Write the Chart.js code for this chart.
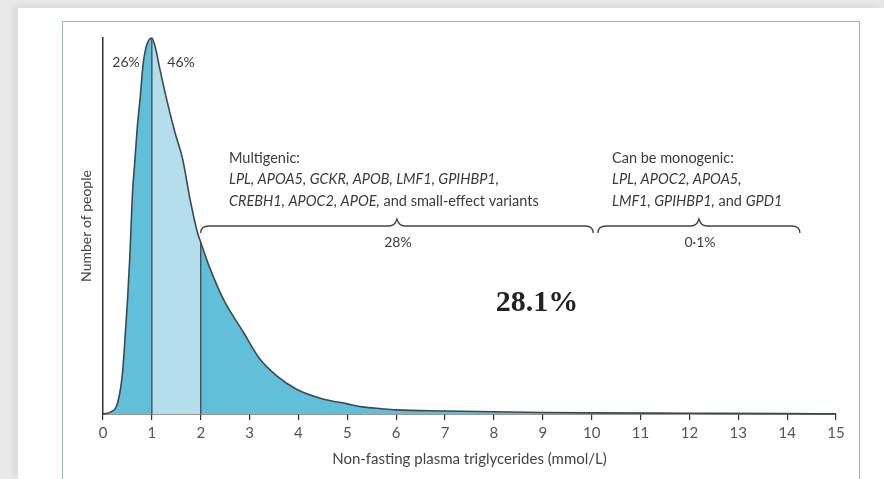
<!DOCTYPE html>
<html>
<head>
<meta charset="utf-8">
<script src="https://cdn.jsdelivr.net/npm/chart.js@4.4.1/dist/chart.umd.min.js"></script>
<style>
  html, body { margin: 0; padding: 0; }
  body { width: 884px; height: 479px; background: #e9e9e9; position: relative; overflow: hidden; }
  .sheet { position: absolute; left: 18px; top: 8px; right: 0; bottom: 0; background: #fff; box-shadow: -4px -2px 8px rgba(0,0,0,0.08); }
  .frame { position: absolute; left: 62px; top: 21px; width: 796px; height: 470px; border: 1.5px solid #93b7b1; }
  #chart { position: absolute; left: 0; top: 0; }
</style>
</head>
<body>
<div class="sheet"></div>
<div class="frame"></div>
<canvas id="chart" width="884" height="479"></canvas>
<script>
// triglycerides (mmol/L) and relative number of people
const tgValues = [0, 0.15, 0.3, 0.4, 0.46, 0.5, 0.55, 0.6, 0.65, 0.7, 0.76, 0.82, 0.88, 0.94, 1.0,
  1.08, 1.15, 1.3, 1.47, 1.63, 1.78, 1.93, 2.0, 2.17, 2.46, 2.87, 3.21, 3.55, 3.96, 4.5, 5.0,
  5.3, 5.7, 6.0, 7.0, 8.0, 9.0, 10.0, 12.0, 14.0, 15.0];
const peopleShare = [0, 0.005, 0.03, 0.11, 0.22, 0.30, 0.42, 0.58, 0.67, 0.76, 0.84, 0.93, 0.975, 0.995, 1.0,
  0.97, 0.926, 0.838, 0.75, 0.678, 0.572, 0.484, 0.457, 0.394, 0.306, 0.218, 0.146, 0.102, 0.066, 0.04, 0.027,
  0.019, 0.014, 0.011, 0.008, 0.006, 0.004, 0.003, 0.002, 0.001, 0];
const cutoffs = [1, 2];
const peakLabels = ['26%', '46%'];
const braceLabels = ['28%', '0·1%'];
const overallLabel = '28.1%';
const multigenicLines = [
  [['Multigenic:', false]],
  [['LPL, APOA5, GCKR, APOB, LMF1, GPIHBP1,', true]],
  [['CREBH1, APOC2, APOE,', true], [' and small-effect variants', false]],
];
const monogenicLines = [
  [['Can be monogenic:', false]],
  [['LPL, APOC2, APOA5,', true]],
  [['LMF1, GPIHBP1,', true], [' and ', false], ['GPD1', true]],
];

const FONT = 'Lato, "Open Sans", sans-serif';
const INK = '#3b3b3b';
const DARK = '#62bfd9';
const LIGHT = '#b4deeb';
const OUTLINE = '#3c4a4f';

const curve = tgValues.map((x, i) => ({ x, y: peopleShare[i] }));
const middle = curve.filter(p => p.x >= cutoffs[0] && p.x <= cutoffs[1]);
const valueAt = (x) => curve.find(p => p.x === x).y;
const cutLines = cutoffs.map(c => ({
  type: 'line',
  data: [{ x: c, y: 0 }, { x: c, y: valueAt(c) }],
  borderColor: OUTLINE,
  borderWidth: 1.3,
  pointRadius: 0,
  fill: false,
}));

function drawRuns(ctx, runs, x, y, size) {
  for (const [text, italic] of runs) {
    ctx.font = `${italic ? 'italic ' : ''}${size}px ${FONT}`;
    ctx.fillText(text, x, y);
    x += ctx.measureText(text).width;
  }
}

function drawBrace(ctx, x1, x2, y) {
  const xc = (x1 + x2) / 2;
  ctx.beginPath();
  ctx.moveTo(x1, y + 7);
  ctx.quadraticCurveTo(x1, y, x1 + 8, y);
  ctx.lineTo(xc - 8, y);
  ctx.quadraticCurveTo(xc - 2, y, xc, y - 7);
  ctx.quadraticCurveTo(xc + 2, y, xc + 8, y);
  ctx.lineTo(x2 - 8, y);
  ctx.quadraticCurveTo(x2, y, x2, y + 7);
  ctx.stroke();
}

const annotations = {
  id: 'annotations',
  afterDraw(chart) {
    const { ctx, scales: { x: xs } } = chart;
    ctx.save();
    ctx.fillStyle = INK;
    ctx.textBaseline = 'middle';

    // peak labels
    ctx.font = `14px ${FONT}`;
    ctx.textAlign = 'center';
    ctx.fillText(peakLabels[0], 126, 62);
    ctx.fillText(peakLabels[1], 181, 62);

    // gene annotations
    ctx.textAlign = 'left';
    multigenicLines.forEach((runs, i) => drawRuns(ctx, runs, 229, 158 + i * 21.5, 14.5));
    monogenicLines.forEach((runs, i) => drawRuns(ctx, runs, 612, 158 + i * 21.5, 14.5));

    // braces
    ctx.strokeStyle = '#444';
    ctx.lineWidth = 1.3;
    const spans = [[2.0, 10.03], [10.13, 14.26]];
    spans.forEach(([a, b], i) => {
      const x1 = xs.getPixelForValue(a);
      const x2 = xs.getPixelForValue(b);
      drawBrace(ctx, x1, x2, 226);
      ctx.font = `14px ${FONT}`;
      ctx.textAlign = 'center';
      ctx.fillText(braceLabels[i], (x1 + x2) / 2 + 1, 242);
    });

    // overall share
    ctx.font = 'bold 30px "Liberation Serif", "Times New Roman", serif';
    ctx.fillStyle = '#222';
    ctx.textAlign = 'center';
    ctx.fillText(overallLabel, 537, 303);
    ctx.restore();
  },
};

new Chart(document.getElementById('chart'), {
  type: 'line',
  data: {
    datasets: [
      ...cutLines,
      { data: middle, backgroundColor: LIGHT, borderWidth: 0, pointRadius: 0, fill: 'origin', cubicInterpolationMode: 'monotone' },
      { data: curve, backgroundColor: DARK, borderColor: OUTLINE, borderWidth: 1.6, pointRadius: 0, fill: 'origin', cubicInterpolationMode: 'monotone', clip: false },
    ],
  },
  options: {
    responsive: false,
    devicePixelRatio: 1,
    animation: false,
    layout: { padding: { left: 78, top: 38, right: 48, bottom: 8 } },
    plugins: {
      legend: { display: false },
      tooltip: { enabled: false },
      filler: { drawTime: 'beforeDatasetsDraw' },
    },
    scales: {
      x: {
        type: 'linear',
        min: 0,
        max: 15,
        afterFit: (s) => { s.height = 57; },
        ticks: { stepSize: 1, color: '#555', padding: 4, font: { family: FONT, size: 15 } },
        grid: { display: true, drawOnChartArea: false, drawTicks: true, tickLength: 6, color: '#333', lineWidth: 1.2 },
        border: { display: true, color: '#333', width: 1.5 },
        title: { display: true, text: 'Non-fasting plasma triglycerides (mmol/L)', color: '#444', padding: { top: 0, bottom: 3 }, font: { family: FONT, size: 15 } },
      },
      y: {
        min: 0,
        max: 1,
        afterFit: (s) => { s.width = 25; },
        ticks: { display: false },
        grid: { display: false, drawOnChartArea: false, drawTicks: false },
        border: { display: true, color: '#333', width: 1.5 },
        title: { display: true, text: 'Number of people', color: '#444', padding: 0, font: { family: FONT, size: 14 } },
      },
    },
  },
  plugins: [annotations],
});
</script>
</body>
</html>
